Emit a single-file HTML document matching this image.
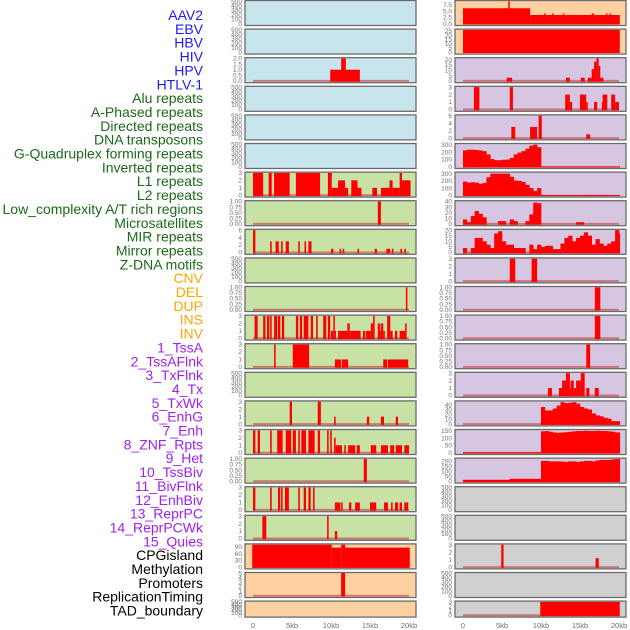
<!DOCTYPE html>
<html><head><meta charset="utf-8"><style>
html,body{margin:0;padding:0;background:#fff;}
svg{display:block;font-family:"Liberation Sans",sans-serif;}
</style></head><body>
<svg id="chart" width="630" height="630" viewBox="0 0 630 630" xmlns="http://www.w3.org/2000/svg"></svg>
<script>
const trackLabels = ["AAV2","EBV","HBV","HIV","HPV","HTLV-1","Alu repeats","A-Phased repeats","Directed repeats","DNA transposons","G-Quadruplex forming repeats","Inverted repeats","L1 repeats","L2 repeats","Low_complexity A/T rich regions","Microsatellites","MIR repeats","Mirror repeats","Z-DNA motifs","CNV","DEL","DUP","INS","INV","1_TssA","2_TssAFlnk","3_TxFlnk","4_Tx","5_TxWk","6_EnhG","7_Enh","8_ZNF_Rpts","9_Het","10_TssBiv","11_BivFlnk","12_EnhBiv","13_ReprPC","14_ReprPCWk","15_Quies","CPGisland","Methylation","Promoters","ReplicationTiming","TAD_boundary"];
const labelGroupSizes = [6,13,5,15,5];
const labelGroupColors = ["#1c1cf0","#1a6a1a","#ffa500","#a020f0","#000000"];
const xTickValues = [0,5,10,15,20];
const xTickLabels = ["0","5kb","10kb","15kb","20kb"];

// segments: [startKb, endKb, value]
const segL2 = [[9.9,13.7,1],[11.3,11.9,2]];
const segL6 = [[0,1.3,3],[2.0,2.4,3],[2.7,4.7,3],[5.5,8.6,3],[9.6,10.1,3],[10.1,10.9,1],[10.9,11.8,2],[11.8,12.2,1],[12.6,13.4,2],[13.4,13.9,1],[15.3,15.9,1],[16.4,17.5,1],[17.5,17.9,2],[17.9,18.8,1],[18.8,19.1,3],[19.1,20.2,2]];
const segL7 = [[16.0,16.4,1]];
const segL8 = [[0,0.3,6],[2.2,2.4,3],[2.9,3.3,3],[3.6,3.8,3],[4.2,4.6,3],[5.8,6.0,3],[6.6,6.8,3],[7.1,7.5,3],[10.0,10.3,1],[11.1,11.3,1],[11.5,11.7,1],[13.4,13.6,1],[15.6,15.9,1],[17.1,17.6,1],[17.8,18.0,1],[18.9,19.1,1],[19.4,19.6,1]];
const segL10 = [[19.6,19.8,1]];
const segL11 = [[0.2,0.6,3],[1.3,1.6,3],[1.8,2.1,3],[2.2,2.4,3],[2.7,3.1,3],[3.2,3.5,3],[3.7,4.0,3],[5.5,5.8,3],[6.0,6.3,3],[6.5,7.1,3],[7.4,7.7,3],[8.1,8.3,3],[9.0,9.4,3],[9.6,9.9,3],[10.0,10.3,1],[10.3,10.5,3],[10.5,10.6,1],[10.9,12.1,1],[12.1,12.4,2],[12.4,13.8,1],[14.1,14.4,1],[14.5,15.1,1],[15.1,15.4,2],[15.4,15.6,3],[16.0,16.3,2],[16.3,16.4,1],[16.4,16.7,2],[16.7,16.9,1],[17.2,17.6,3],[17.6,17.9,1],[18.2,18.5,1],[18.8,19.5,1],[19.5,19.7,2]];
const segL12 = [[2.7,2.9,3],[5.1,7.2,3],[10.5,11.3,1],[11.4,12.2,1],[16.7,17.2,1],[17.3,19.9,1]];
const segL14 = [[4.7,5.0,3],[8.3,8.7,3],[10.4,10.6,1],[14.6,14.9,1],[16.4,16.8,1],[18.3,18.6,1]];
const segL15 = [[0,0.3,3],[0.6,0.9,3],[2.2,2.4,3],[3.1,3.8,3],[4.2,4.9,3],[5.1,5.5,3],[5.8,6.0,3],[6.2,6.8,3],[7.1,7.9,3],[8.3,8.6,3],[9.5,9.7,3],[9.9,10.1,3],[10.4,10.6,2],[10.6,11.4,1],[11.7,11.9,1],[12.2,13.1,1],[13.3,13.7,1],[15.1,15.8,1],[16.4,17.3,1],[17.6,18.1,1],[18.3,19.1,1],[19.4,20.0,1]];
const segL16 = [[14.2,14.6,1]];
const segL17 = [[0,0.3,3],[2.2,2.4,3],[3.2,3.5,3],[3.6,3.8,3],[4.1,4.6,3],[5.8,6.0,3],[6.5,6.8,3],[7.1,7.4,3],[7.7,7.9,3],[10.5,11.2,1],[11.3,11.5,1],[12.3,12.6,1],[13.1,13.7,1],[15.0,15.8,1],[16.8,17.3,1],[17.7,17.9,1],[18.2,18.6,1],[18.8,19.1,1],[19.4,19.9,1]];
const segL18 = [[1.2,1.7,3],[9.5,9.7,3],[10.5,10.8,1]];
const segL19 = [[-0.1,10.1,100],[10.1,11.3,87],[11.3,11.8,100],[11.8,20.1,87]];
const segL20 = [[11.3,11.8,5.3]];
const segR0 = [[0,8.6,6.2],[5.8,6.0,9],[8.6,20.1,3.5],[10.4,10.6,4.1],[11.4,11.6,4.1],[12.8,13.0,4.1],[16.5,16.8,4.1],[18.3,18.5,4.1],[18.8,19.0,4.1]];
const segR1 = [[0,20.1,26]];
const segR2 = [[5.6,6.3,3],[13.2,13.7,3],[15.1,15.6,3],[16.0,16.5,3],[16.5,16.8,11],[16.8,17.1,18],[17.1,17.4,21],[17.4,17.6,14],[17.6,18.0,3]];
const segR3 = [[1.4,2.1,3],[6.0,6.4,3],[13.1,13.7,2],[13.7,14.0,1],[15.0,15.8,2],[15.8,16.0,1],[16.8,17.2,1],[17.8,17.9,1],[17.9,18.5,2],[19.0,19.5,2],[19.5,20.0,1]];
const segR4 = [[6.2,6.7,3],[8.6,9.5,3],[9.7,10.1,6],[15.8,16.3,1]];
const segR9 = [[6.0,6.7,3],[8.8,9.5,3]];
const segR10 = [[16.9,17.6,1]];
const segR11 = [[16.9,17.6,1]];
const segR12 = [[15.8,16.3,1]];
const segR13 = [[10.9,11.4,1],[12.3,12.7,1],[12.7,13.2,2],[13.2,13.7,3],[13.7,13.8,1],[13.8,14.2,2],[14.2,14.5,1],[14.5,15.1,2],[15.1,15.6,3],[15.8,16.2,1],[16.9,17.4,1]];
const segR19 = [[4.9,5.2,3],[17.0,17.4,1.2]];
const segR21 = [[9.9,20.1,3]];
// binned profiles: values in 0.5kb bins starting at 0kb
const binsR5 = [225,235,235,232,225,215,170,105,90,90,95,100,120,170,195,215,250,290,305,270,5,5,5,5,5,5,5,5,5,5,5,5,5,5,5,5,5,5,5,5,5];
const binsR6 = [190,175,180,175,160,170,250,300,300,300,300,300,255,205,200,185,145,100,60,100,5,5,5,5,5,5,5,5,5,5,5,5,5,5,5,5,5,5,5,5,5];
const binsR7 = [8,3,14,23,18,12,0,0,0,5,5,0,8,5,0,0,5,17,38,37,0,0,0,0,0,0,0,0,0,3,3,0,0,0,0,0,0,0,0,0];
const binsR8 = [4,0,4,13,13,10,7,4,17,19,10,7,7,4,4,4,0,7,3,7,5,6,6,3,3,8,13,15,10,13,15,18,15,7,12,8,6,8,10,20,17];
const binsR14 = [0,0,0,0,0,0,0,0,0,0,0,0,0,0,0,0,0,0,0,0,35,28,28,32,38,45,43,44,45,42,35,32,30,22,18,16,13,11,6,6,6];
const binsR15 = [2,2,2,2,2,2,2,2,2,2,2,2,2,2,2,2,2,2,2,2,148,150,145,140,138,140,142,145,148,150,150,152,150,150,152,150,150,148,145,140,140];
const binsR16 = [15,15,15,15,15,15,15,15,15,15,15,15,25,25,25,25,25,25,25,25,205,205,200,200,200,198,195,200,200,195,200,205,205,200,210,215,215,215,220,225,225];

const T500=[0,100,200,300,400,500], T3=[0,1,2,3], T1=[0,0.25,0.5,0.75,1];
const BG={blue:"#c8e4ec",green:"#c8e2a6",orange:"#ffd1a0",purple:"#d6c6e2",gray:"#d0d0d0"};
const panels = [
 // left column
 {col:0,row:0,bg:"blue",ymax:500,ticks:T500},
 {col:0,row:1,bg:"blue",ymax:500,ticks:T500},
 {col:0,row:2,bg:"blue",ymax:2,ticks:[0,0.5,1,1.5,2],dec:1,segs:segL2},
 {col:0,row:3,bg:"blue",ymax:500,ticks:T500},
 {col:0,row:4,bg:"blue",ymax:500,ticks:T500},
 {col:0,row:5,bg:"blue",ymax:500,ticks:T500},
 {col:0,row:6,bg:"green",ymax:3,ticks:T3,segs:segL6},
 {col:0,row:7,bg:"green",ymax:1,ticks:T1,dec:2,segs:segL7},
 {col:0,row:8,bg:"green",ymax:6,ticks:[0,2,4,6],segs:segL8},
 {col:0,row:9,bg:"green",ymax:500,ticks:T500},
 {col:0,row:10,bg:"green",ymax:1,ticks:T1,dec:2,segs:segL10},
 {col:0,row:11,bg:"green",ymax:3,ticks:T3,segs:segL11},
 {col:0,row:12,bg:"green",ymax:3,ticks:T3,segs:segL12},
 {col:0,row:13,bg:"green",ymax:500,ticks:T500},
 {col:0,row:14,bg:"green",ymax:3,ticks:T3,segs:segL14},
 {col:0,row:15,bg:"green",ymax:3,ticks:T3,segs:segL15},
 {col:0,row:16,bg:"green",ymax:1,ticks:T1,dec:2,segs:segL16},
 {col:0,row:17,bg:"green",ymax:3,ticks:T3,segs:segL17},
 {col:0,row:18,bg:"green",ymax:3,ticks:T3,segs:segL18},
 {col:0,row:19,bg:"orange",ymax:100,ticks:[0,30,60,90],segs:segL19,nobase:true},
 {col:0,row:20,bg:"orange",ymax:5,ticks:[0,1,2,3,4,5],segs:segL20},
 {col:0,row:21,bg:"orange",ymax:500,ticks:T500},
 // right column
 {col:1,row:0,bg:"orange",ymax:9,ticks:[0,2.5,5,7.5],dec:1,segs:segR0,nobase:true},
 {col:1,row:1,bg:"orange",ymax:26,ticks:[0,5,10,15,20,25],segs:segR1,nobase:true},
 {col:1,row:2,bg:"purple",ymax:21,ticks:[0,5,10,15,20],segs:segR2},
 {col:1,row:3,bg:"purple",ymax:3,ticks:T3,segs:segR3},
 {col:1,row:4,bg:"purple",ymax:6,ticks:[0,2,4,6],segs:segR4},
 {col:1,row:5,bg:"purple",ymax:310,ticks:[0,100,200,300],bins:binsR5,nobase:true},
 {col:1,row:6,bg:"purple",ymax:310,ticks:[0,100,200,300],bins:binsR6,nobase:true},
 {col:1,row:7,bg:"purple",ymax:40,ticks:[0,10,20,30,40],bins:binsR7},
 {col:1,row:8,bg:"purple",ymax:20,ticks:[0,5,10,15,20],bins:binsR8},
 {col:1,row:9,bg:"purple",ymax:3,ticks:T3,segs:segR9},
 {col:1,row:10,bg:"purple",ymax:1,ticks:T1,dec:2,segs:segR10},
 {col:1,row:11,bg:"purple",ymax:1,ticks:T1,dec:2,segs:segR11},
 {col:1,row:12,bg:"purple",ymax:1,ticks:T1,dec:2,segs:segR12},
 {col:1,row:13,bg:"purple",ymax:3,ticks:T3,segs:segR13},
 {col:1,row:14,bg:"purple",ymax:46,ticks:[0,10,20,30,40],bins:binsR14},
 {col:1,row:15,bg:"purple",ymax:155,ticks:[0,50,100,150],bins:binsR15},
 {col:1,row:16,bg:"purple",ymax:225,ticks:[0,50,100,150,200],bins:binsR16},
 {col:1,row:17,bg:"gray",ymax:500,ticks:T500},
 {col:1,row:18,bg:"gray",ymax:500,ticks:T500},
 {col:1,row:19,bg:"gray",ymax:3,ticks:T3,segs:segR19},
 {col:1,row:20,bg:"gray",ymax:500,ticks:T500},
 {col:1,row:21,bg:"gray",ymax:3,ticks:T3,segs:segR21}
];

const NS="http://www.w3.org/2000/svg";
const svg=document.getElementById('chart');
function mk(tag,attrs,parent){const e=document.createElementNS(NS,tag);for(const k in attrs)e.setAttribute(k,attrs[k]);(parent||svg).appendChild(e);return e;}
const colX=[245,455], panelW=171;
function xScale(col,kb){return colX[col]+8+kb*7.8;}
function rowTop(r){return 0.5+r*28.6;}
function rowH(r){return r===21?16:25;}

// labels
let gi=0,cnt=0;
trackLabels.forEach((lab,i)=>{
  while(cnt>=labelGroupSizes[gi]){gi++;cnt=0;}
  cnt++;
  const t=mk('text',{x:203,y:(20+i*13.85).toFixed(2),'text-anchor':'end','font-size':'14',fill:labelGroupColors[gi]});
  
  
  t.textContent=lab;
});

panels.forEach(p=>{
  const g=mk('g',{});
  
  
  const top=rowTop(p.row), h=rowH(p.row), x0=colX[p.col];
  const y0=top+h-1.8, yT=top+0.8;
  const yS=v=>y0-(v/p.ymax)*(y0-yT);
  const bg=mk('rect',{x:x0,y:top,width:panelW,height:h,fill:BG[p.bg]},g);
  
  
  const hasData=p.segs||p.bins;
  if(hasData&&!p.nobase){
    const bl=mk('line',{x1:xScale(p.col,0),x2:xScale(p.col,20),y1:y0,y2:y0,stroke:'#c85050','stroke-width':2,'stroke-opacity':0.7},g);
    
    
  }
  if(p.segs){p.segs.forEach(s=>{
    const x1=xScale(p.col,s[0]),x2=xScale(p.col,s[1]),yv=Math.max(top,yS(s[2]));
    const r=mk('rect',{x:x1,y:yv,width:Math.max(1.2,x2-x1),height:Math.max(0,y0+0.8-yv),fill:'#ff0000'},g);
    
    
  });}
  if(p.bins){p.bins.forEach((v,k)=>{
    if(v<=0)return;
    const s=k*0.5,e=Math.min(20.1,s+0.5);
    const x1=xScale(p.col,s),x2=xScale(p.col,e),yv=Math.max(top,yS(v));
    const r=mk('rect',{x:x1,y:yv,width:x2-x1+0.3,height:Math.max(0,y0+0.8-yv),fill:'#ff0000'},g);
    
    
  });}
  const fr=mk('rect',{x:x0,y:top,width:panelW,height:h,fill:'none',stroke:'#6b6b6b','stroke-width':1.3},g);
  
  
  p.ticks.forEach(tv=>{
    const t=mk('text',{x:x0-3,y:(yS(tv)+2.2).toFixed(2),'text-anchor':'end','font-size':'6.5',fill:'#707070'},g);
    
    
    t.textContent=p.dec?tv.toFixed(p.dec):String(tv);
  });
});

[0,1].forEach(col=>{
  xTickValues.forEach((v,i)=>{
    const t=mk('text',{x:xScale(col,v),y:628,'text-anchor':'middle','font-size':'7.5',fill:'#707070'});
    
    
    t.textContent=xTickLabels[i];
  });
});
</script>
</body></html>
